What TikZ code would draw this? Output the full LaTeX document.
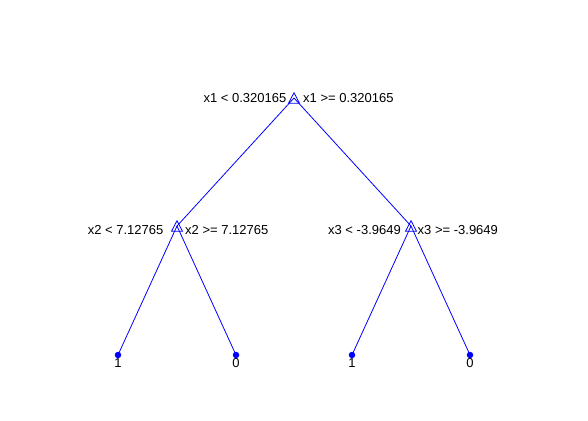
\documentclass[tikz,border=0pt]{standalone}
\usepackage{fontspec}
\setmainfont{Liberation Sans}
\usetikzlibrary{calc}
\definecolor{treeblue}{RGB}{0,0,255}
\begin{document}
\begin{tikzpicture}[x=1pt,y=-1pt,
  edge/.style={draw=treeblue, line width=0.8pt},
  tri/.style={draw=treeblue, line width=0.8pt, line join=miter},
  leafdot/.style={circle, fill=treeblue, inner sep=0pt, minimum size=6.5pt},
  lbl/.style={inner sep=0pt, font=\fontsize{13}{15}\selectfont, text=black}]
\fill[white] (0,0) rectangle (588,420);
\useasboundingbox (0,0) rectangle (588,420);
% tree points
\coordinate (r) at (294,98);
\coordinate (a) at (177,226);
\coordinate (b) at (411,226);
\coordinate (p1) at (118,355);
\coordinate (p2) at (236,355);
\coordinate (p3) at (352,355);
\coordinate (p4) at (470,355);
% edges
\draw[edge] (r) -- (a);
\draw[edge] (r) -- (b);
\draw[edge] (a) -- (p1);
\draw[edge] (a) -- (p2);
\draw[edge] (b) -- (p3);
\draw[edge] (b) -- (p4);
% leaf labels
\node[lbl, anchor=base] (t1) at (118,367.3) {1};
\node[lbl, anchor=base] (t2) at (236,367.3) {0};
\node[lbl, anchor=base] (t3) at (352,367.3) {1};
\node[lbl, anchor=base] (t4) at (470,367.3) {0};
% leaf dots
\node[leafdot] (d1) at (p1) {};
\node[leafdot] (d2) at (p2) {};
\node[leafdot] (d3) at (p3) {};
\node[leafdot] (d4) at (p4) {};
% branch markers
\draw[tri] ($(r)+(0,-5.3)$) -- ++(5.5,10.6) -- ++(-11,0) -- cycle;
\draw[tri] ($(a)+(0,-5.3)$) -- ++(5.5,10.6) -- ++(-11,0) -- cycle;
\draw[tri] ($(b)+(0,-5.3)$) -- ++(5.5,10.6) -- ++(-11,0) -- cycle;
% split labels
\node[lbl, anchor=base east] (rl) at (286.5,102.7) {x1 < 0.320165};
\node[lbl, anchor=base west] (rr) at (303,102.7) {x1 >= 0.320165};
\node[lbl, anchor=base east] (al) at (163.5,234.5) {x2 < 7.12765};
\node[lbl, anchor=base west] (ar) at (185,234.5) {x2 >= 7.12765};
\node[lbl, anchor=base east] (bl) at (401,234.5) {x3 < -3.9649};
\node[lbl, anchor=base west] (br) at (417.5,234.5) {x3 >= -3.9649};
\end{tikzpicture}
\end{document}
